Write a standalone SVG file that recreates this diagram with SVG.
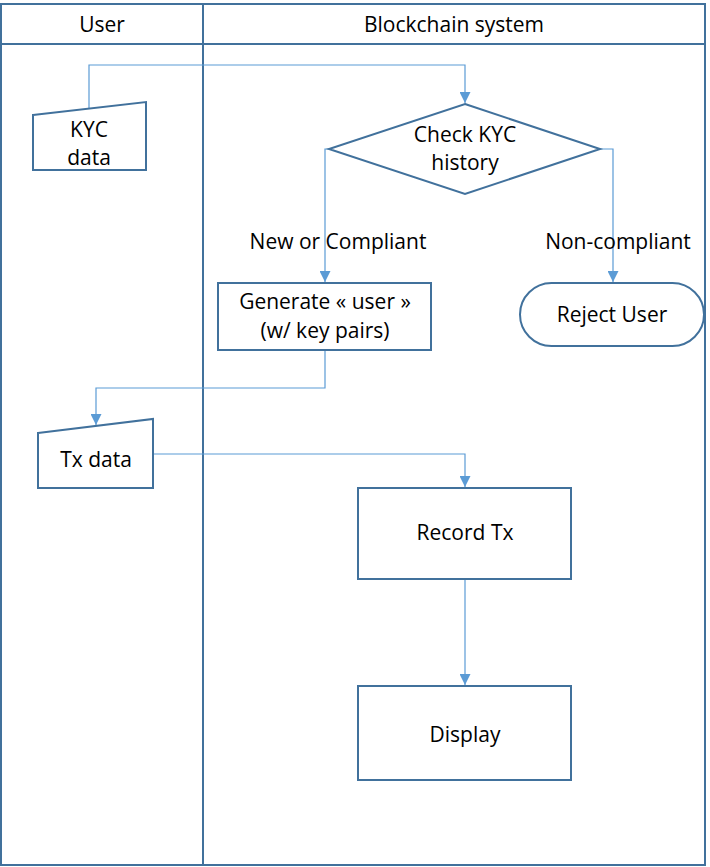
<svg xmlns="http://www.w3.org/2000/svg" width="710" height="867" viewBox="0 0 710 867">
<style>
.b{fill:#fff;stroke:#41719C;stroke-width:2}
.ln{fill:none;stroke:#41719C;stroke-width:2}
.c{fill:none;stroke:#5B9BD5;stroke-width:1.2}
text{font-family:"Open Sans","DejaVu Sans",sans-serif;font-size:21px;fill:#000;text-anchor:middle}
</style>
<defs>
<marker id="a" viewBox="0 0 10 10" refX="10" refY="5" markerWidth="11" markerHeight="11" markerUnits="userSpaceOnUse" orient="auto">
<path d="M0,0 L10,5 L0,10 Z" fill="#5B9BD5"/>
</marker>
</defs>
<rect width="710" height="867" fill="#fff"/>
<g id="lanes">
<rect class="ln" x="1" y="4" width="704" height="861"/>
<line class="ln" x1="1" y1="44" x2="705" y2="44"/>
<line class="ln" x1="203" y1="4" x2="203" y2="865"/>
<text x="102" y="32">User</text>
<text x="454" y="32">Blockchain system</text>
</g>
<g id="connectors">
<path class="c" d="M89,108 V65 H465 V103" marker-end="url(#a)"/>
<path class="c" d="M329,149 H325 V282" marker-end="url(#a)"/>
<path class="c" d="M600,149 H613 V282" marker-end="url(#a)"/>
<path class="c" d="M325,350 V388 H96 V425" marker-end="url(#a)"/>
<path class="c" d="M153,454 H465 V487" marker-end="url(#a)"/>
<path class="c" d="M465,579 V685" marker-end="url(#a)"/>
<text x="338" y="249">New or Compliant</text>
<text x="618" y="249">Non-compliant</text>
</g>
<g id="kyc">
<path class="b" d="M33,115 L146,102 V170 H33 Z"/>
<text x="89" y="137">KYC</text>
<text x="89" y="165">data</text>
</g>
<g id="check">
<path class="b" d="M465,104 L600,149 L465,194 L329,149 Z"/>
<text x="465" y="142">Check KYC</text>
<text x="465" y="170">history</text>
</g>
<g id="generate">
<rect class="b" x="218" y="283" width="213" height="67"/>
<text x="325" y="309">Generate « user »</text>
<text x="325" y="338">(w/ key pairs)</text>
</g>
<g id="reject">
<rect class="b" x="520" y="283" width="184" height="63" rx="31.5"/>
<text x="612" y="322">Reject User</text>
</g>
<g id="tx">
<path class="b" d="M38,433 L153,419 V488 H38 Z"/>
<text x="96" y="467">Tx data</text>
</g>
<g id="record">
<rect class="b" x="358" y="488" width="213" height="91"/>
<text x="465" y="540">Record Tx</text>
</g>
<g id="display">
<rect class="b" x="358" y="686" width="213" height="94"/>
<text x="465" y="742">Display</text>
</g>
</svg>
